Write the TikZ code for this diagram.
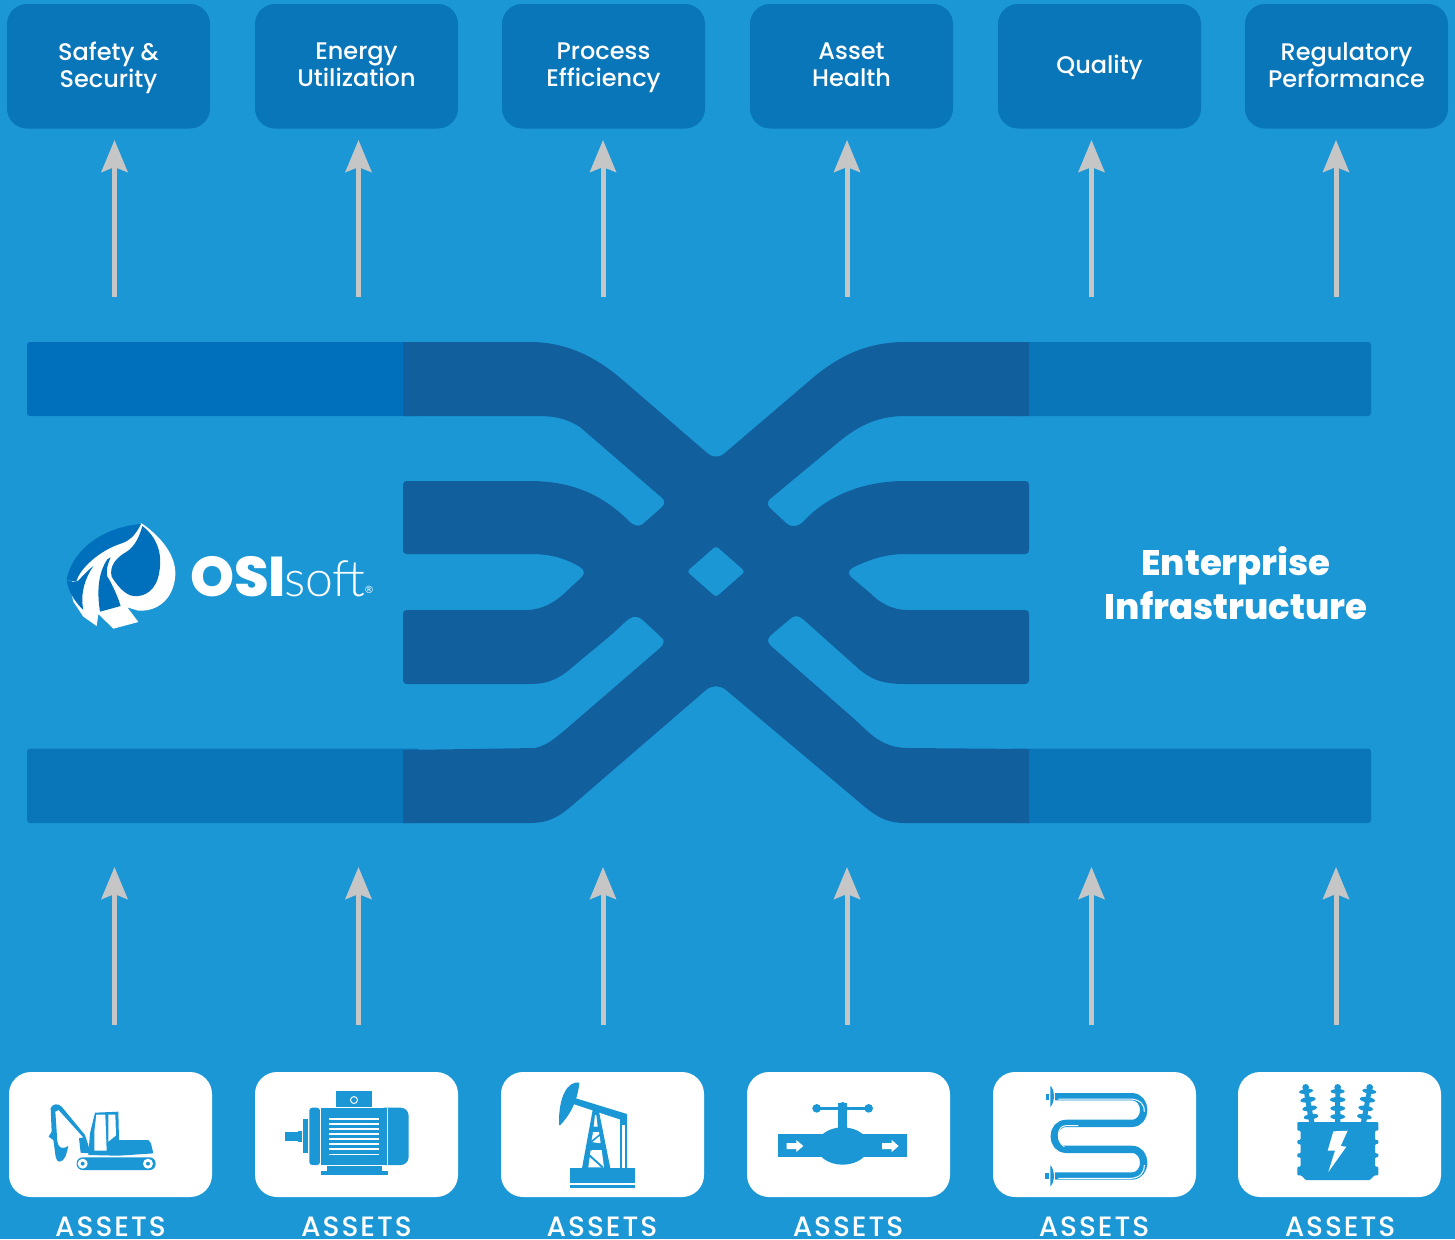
\documentclass[tikz,border=0pt]{standalone}
\usepackage{fontspec}
\setmainfont{Poppins}
\newfontfamily\softfont{Lato Light}
\newfontfamily\medfont{Poppins Medium}
\newfontfamily\heavyfont{Poppins ExtraBold}
\newfontfamily\regfont{DejaVu Sans}
\newcommand\kl{\vphantom{Ag}}
\usetikzlibrary{arrows.meta}
\definecolor{bgblue}{HTML}{1B97D6}
\definecolor{darkband}{HTML}{11609D}
\definecolor{boxblue}{HTML}{0A76BA}
\definecolor{leftblue}{HTML}{0070BC}
\definecolor{arrowgrey}{HTML}{C6C6C6}
\tikzset{
  x=1bp,y=-1bp,
  kpi/.style={fill=boxblue,rounded corners=20bp},
  asset/.style={fill=white,rounded corners=22bp},
  kpitext/.style={text=white,align=center,inner sep=0pt,font=\medfont\fontsize{24bp}{27bp}\selectfont},
  assettext/.style={text=white,inner sep=0pt,font=\medfont\addfontfeature{LetterSpace=7}\fontsize{28bp}{30bp}\selectfont},
  flow/.style={draw=arrowgrey,line width=5bp,-{Stealth[length=32bp,width=26bp,inset=5bp]}},
}
\begin{document}
\begin{tikzpicture}
\useasboundingbox (0,0) rectangle (1455,1239);
\fill[bgblue] (0,0) rectangle (1455,1239);
% top boxes
\foreach \x/\t [count=\i] in {7/{\kl Safety \&\\\kl Security},255/{\kl Energy\\\kl Utilization},502/{\kl Process\\\kl Efficiency},750/{\kl Asset\\\kl Health},998/{\kl Quality},1245/{\kl Regulatory\\\kl Performance}}{
  \fill[kpi] (\x,4) rectangle ++(203,124.5);
  \node[kpitext] (kpi\i) at (\x+101.5,68) {\t};
}
% arrows
\foreach \x [count=\i] in {114.5,358.5,603,847,1091.5,1336}{
  \coordinate (us\i) at (\x,297); \coordinate (ue\i) at (\x,140);
  \draw[flow] (us\i) -- (ue\i);
  \coordinate (ls\i) at (\x,1025); \coordinate (le\i) at (\x,867);
  \draw[flow] (ls\i) -- (le\i);
}
% bands
\fill[leftblue,rounded corners=3bp] (27,342) rectangle (420,416);
\fill[boxblue,rounded corners=3bp] (27,748.5) rectangle (420,823);
\fill[boxblue,rounded corners=3bp] (1010,342) rectangle (1371,416);
\fill[boxblue,rounded corners=3bp] (1010,748.5) rectangle (1371,823);
% central shape
\fill[darkband] (403,342) -- (530,342) .. controls (570,342) and (600,360) .. (625,382) -- (706,452) .. controls (712,458) and (720,458) .. (726,452) -- (808,382) .. controls (835,358) and (865,342) .. (905,342) -- (1029,342) -- (1029,416) -- (905,416) .. controls (875,416) and (855,428) .. (835,445) -- (770,499) .. controls (767,502) and (767,505) .. (770,508) -- (786,523) .. controls (792,528) and (798,527) .. (804,521) .. controls (825,498) and (860,481) .. (905,481) -- (1025,481) .. controls (1028,481) and (1029,482) .. (1029,485) -- (1029,550) .. controls (1029,553) and (1028,554) .. (1025,554) -- (905,554) .. controls (885,554) and (868,560) .. (852,568) .. controls (848,571) and (848,574) .. (851,577) -- (870,593) .. controls (880,603) and (892,610) .. (908,610) -- (1025,610) .. controls (1028,610) and (1029,611) .. (1029,614) -- (1029,680) .. controls (1029,683) and (1028,684) .. (1025,684) -- (905,684) .. controls (880,684) and (870,678) .. (860,670) -- (804,620) .. controls (798,615) and (795,615) .. (790,619) -- (771,635) .. controls (767,639) and (767,642) .. (771,646) -- (852,717) .. controls (868,731) and (880,748) .. (908,748) -- (1029,749) -- (1029,823) -- (905,823) .. controls (885,823) and (875,815) .. (865,807) -- (726,690) .. controls (720,685) and (712,685) .. (706,690) -- (575,803) .. controls (560,816) and (550,823) .. (530,823) -- (403,823) -- (403,750) -- (535,748) .. controls (548,745) and (555,738) .. (565,730) -- (660,648) .. controls (665,643) and (665,640) .. (660,636) -- (645,622) .. controls (637,614) and (632,616) .. (625,622) .. controls (610,637) and (590,652) .. (575,665) .. controls (560,678) and (550,684) .. (530,684) -- (407,684) .. controls (404,684) and (403,683) .. (403,680) -- (403,614) .. controls (403,611) and (404,610) .. (407,610) -- (525,610) .. controls (545,610) and (558,600) .. (570,588) -- (581,578) .. controls (585,574) and (585,570) .. (580,567) .. controls (565,558) and (550,554) .. (530,554) -- (407,554) .. controls (404,554) and (403,553) .. (403,550) -- (403,485) .. controls (403,482) and (404,481) .. (407,481) -- (530,481) .. controls (575,481) and (605,497) .. (630,522) .. controls (636,527) and (640,527) .. (645,522) -- (661,508) .. controls (666,503) and (665,500) .. (661,497) -- (580,427) .. controls (565,418) and (555,416) .. (535,416) -- (403,416) -- cycle;
\fill[bgblue,rounded corners=3bp] (716,546) -- (745,571.5) -- (716,597) -- (687,571.5) -- cycle;
% title
\node[text=white,align=center,inner sep=0pt,font=\heavyfont\fontsize{35.5bp}{44bp}\selectfont] (ent) at (1236,583) {Enterprise\\Infrastructure};
% logo
\begin{scope}[x=0.33333bp,y=-0.33333bp,xshift=50bp,yshift=-510bp]
\fill[white] (275,40) .. controls (340,85) and (378,140) .. (376,195) .. controls (372,265) and (325,305) .. (265,302) -- (232,292) -- (265,336) -- (190,356) -- (145,312) -- (140,348) -- (100,320) -- (70,275) -- (60,230) -- (100,130) -- cycle;
\fill[leftblue] (273,42) .. controls (170,50) and (70,110) .. (50,208) .. controls (60,212) and (72,214) .. (80,212) .. controls (90,175) and (150,120) .. (215,100) .. controls (245,90) and (262,65) .. (273,42) -- cycle;
\fill[leftblue] (277,48) .. controls (320,80) and (338,130) .. (328,185) .. controls (320,240) and (285,262) .. (250,258) .. controls (225,255) and (200,225) .. (185,200) .. controls (178,170) and (195,145) .. (230,125) .. controls (255,110) and (270,75) .. (277,48) -- cycle;
\fill[leftblue] (50,210) .. controls (60,216) and (75,216) .. (85,212) .. controls (100,195) and (115,180) .. (130,168) .. controls (105,205) and (90,250) .. (100,300) .. controls (80,280) and (55,250) .. (50,210) -- cycle;
\fill[leftblue] (172,148) .. controls (150,180) and (138,230) .. (150,305) -- (212,288) .. controls (200,250) and (180,210) .. (172,200) .. controls (168,180) and (172,165) .. (182,142) -- cycle;
\end{scope}
\node[text=white,inner sep=0pt,anchor=base west,font=\heavyfont\fontsize{56bp}{56bp}\selectfont] (osi) at (190,596) {OSI};
\node[text=white,inner sep=0pt,anchor=base west,font=\softfont\fontsize{50bp}{50bp}\selectfont] (soft) at (284,596) {soft};
\node[text=white,inner sep=0pt,font=\regfont\fontsize{10bp}{10bp}\selectfont] (reg) at (369,590) {®};
% asset boxes
\foreach \x/\lx [count=\i] in {9/110.5,255/356.5,501/602,747/848,993/1094,1238/1340}{
  \fill[asset] (\x,1072) rectangle ++(203,125);
  \node[assettext] (as\i) at (\lx,1226.5) {ASSETS};
}
% excavator
\begin{scope}[x=0.33333bp,y=-0.33333bp,yshift=-1060bp]
\fill[bgblue] (152,145) .. controls (155,132) and (175,128) .. (185,140) -- (255,225) -- (265,255) -- (270,280) -- (242,278) -- (237,235) -- (250,232) -- (176,150) -- (166,155) -- (172,245) .. controls (175,262) and (185,270) .. (205,258) .. controls (200,280) and (195,305) .. (178,305) .. controls (165,302) and (168,290) .. (160,240) -- (146,230) -- (155,215) -- cycle;
\fill[bgblue] (285,158) -- (355,155) -- (357,240) -- (445,240) -- (453,250) -- (460,280) -- (355,287) -- (265,285) -- (270,220) -- cycle;
\fill[white] (289,164) -- (316,164) -- (320,272) -- (283,272) -- (283,215) -- cycle;
\fill[white] (325,164) -- (346,164) -- (348,226) -- (325,245) -- cycle;
\fill[bgblue,rounded corners=6bp] (230,292) rectangle (467,330);
\foreach \cx in {248,444}{\fill[white] (\cx,311) circle[radius=15]; \fill[bgblue] (\cx,311) circle[radius=6];}
\end{scope}
% motor
\begin{scope}[x=0.33333bp,y=-0.33333bp,yshift=-1060bp]
\fill[bgblue] (1008,93) rectangle (1115,141);
\fill[white] (1062,120) circle[radius=12]; \fill[bgblue] (1062,120) circle[radius=8.5];
\fill[bgblue,rounded corners=3bp] (928,143) rectangle (960,315);
\fill[bgblue] (963,143) rectangle (1161,315);
\fill[bgblue,rounded corners=8bp] (1130,143) rectangle (1226,315);
\fill[white] (1161,143) rectangle (1164,315);
\fill[bgblue] (910,177) rectangle (925,280);
\fill[bgblue] (855,215) rectangle (895,243);
\fill[bgblue] (893,212) rectangle (906,246);
\foreach \fy in {176,191,206,222,237,252,267,283}{\fill[white] (987,\fy-2.5) rectangle (1137,\fy+2.5);}
\fill[bgblue] (981,318) rectangle (1146,332);
\fill[bgblue] (963,332) rectangle (1164,346);
\end{scope}
% pumpjack
\begin{scope}[x=0.33333bp,y=-0.33333bp,xshift=490bp,yshift=-1060bp]
\fill[bgblue] (268,68) .. controls (235,62) and (205,105) .. (207,195) -- (211,195) .. controls (235,170) and (262,130) .. (268,68) -- cycle;
\fill[bgblue] (258,115) -- (411,162) -- (411,185) -- (395,180) -- (250,132) -- cycle;
\fill[bgblue] (391,175) rectangle (411,325);
\fill[white] (396,195) rectangle (405,325);
\fill[bgblue] (308,150) -- (326,150) -- (361,325) -- (276,325) -- cycle;
\fill[white] (315,165) -- (319,165) -- (323,200) -- (311,200) -- cycle;
\fill[white] (309,216) -- (327,216) -- (332,250) -- (304,246) -- cycle;
\fill[bgblue] (300,245) -- (334,218) -- (336,222) -- (302,250) -- cycle;
\fill[white] (302,270) -- (335,270) -- (342,322) -- (295,322) -- cycle;
\fill[bgblue] (296,280) -- (340,320) -- (336,324) -- (294,286) -- cycle;
\fill[bgblue] (303,268) -- (333,248) -- (336,252) -- (304,272) -- cycle;
\fill[bgblue] (240,324) rectangle (435,369);
\fill[bgblue] (240,375) rectangle (435,384);
\end{scope}
% valve
\begin{scope}[x=0.33333bp,y=-0.33333bp,xshift=490bp,yshift=-1060bp]
\fill[bgblue] (864,223) rectangle (1252,291);
\fill[bgblue] (1058,258) ellipse[x radius=78,y radius=56];
\fill[bgblue] (1045,130) rectangle (1072,210);
\fill[bgblue] (975,140) rectangle (1140,150);
\fill[bgblue] (980,145) circle[radius=13];
\fill[bgblue] (1058,138) circle[radius=12];
\fill[bgblue] (1136,145) circle[radius=13];
\foreach \ax in {890,1176}{
  \fill[white] (\ax,249) -- (\ax+29,249) -- (\ax+29,240) -- (\ax+50,258) -- (\ax+29,276) -- (\ax+29,267) -- (\ax,267) -- cycle;
}
\end{scope}
% radiator
\begin{scope}[x=0.33333bp,y=-0.33333bp,xshift=975bp,yshift=-1060bp]
\draw[bgblue,line width=7.3bp,line join=round] (240,110) -- (470,110) .. controls (518,110) and (518,190) .. (470,190) -- (275,190) .. controls (225,190) and (225,268) .. (275,268) -- (470,268) .. controls (518,268) and (518,348) .. (470,348) -- (240,348);
\draw[white,line width=1bp] (250,117) -- (465,117) .. controls (495,117) and (510,135) .. (508,155);
\draw[white,line width=1bp] (310,197) -- (272,197) .. controls (245,197) and (242,245) .. (268,260);
\draw[white,line width=1bp] (250,355) -- (465,355) .. controls (495,355) and (510,335) .. (508,315);
\fill[bgblue] (226,78) .. controls (238,85) and (242,125) .. (226,141) -- cycle;
\fill[bgblue] (226,316) .. controls (238,325) and (242,365) .. (226,379) -- cycle;
\fill[bgblue] (213,102) rectangle (223,120);
\fill[bgblue] (210,338) rectangle (223,357);
\end{scope}
% transformer
\begin{scope}[x=0.33333bp,y=-0.33333bp,xshift=975bp,yshift=-1060bp]
\fill[bgblue,rounded corners=1bp] (967,186) -- (1210,186) -- (1210,212) -- (1200,212) -- (1200,240) -- (1210,240) -- (1210,252) -- (1200,252) -- (1200,280) -- (1210,280) -- (1210,292) -- (1200,292) -- (1200,320) -- (1210,320) -- (1210,346) -- (1198,346) -- (1185,360) -- (992,360) -- (979,346) -- (967,346) -- (967,320) -- (977,320) -- (977,292) -- (967,292) -- (967,280) -- (977,280) -- (977,252) -- (967,252) -- (967,240) -- (977,240) -- (977,212) -- (967,212) -- cycle;
\fill[white] (1075,214) -- (1118,212) -- (1097,258) -- (1114,260) -- (1060,336) -- (1080,272) -- (1058,272) -- cycle;
\foreach \sign in {-1,0,1}{
  \fill[bgblue] (1088+\sign*97-7,80) -- (1088+\sign*97+7,80) -- (1088+\sign*78+8,186) -- (1088+\sign*78-8,186) -- cycle;
  \fill[bgblue] (1088+\sign*96,82) circle[radius=10];
  \fill[bgblue,rotate around={-8*\sign:(1088+\sign*96,94)}] (1088+\sign*95,94) ellipse[x radius=21,y radius=7];
  \fill[bgblue,rotate around={-8*\sign:(1088+\sign*89,119)}] (1088+\sign*89,119) ellipse[x radius=23,y radius=8];
  \fill[bgblue,rotate around={-8*\sign:(1088+\sign*84,145)}] (1088+\sign*84,145) ellipse[x radius=22,y radius=8];
  \fill[bgblue,rotate around={-8*\sign:(1088+\sign*80,170)}] (1088+\sign*80,170) ellipse[x radius=22,y radius=8];
}
\end{scope}
\end{tikzpicture}
\end{document}
